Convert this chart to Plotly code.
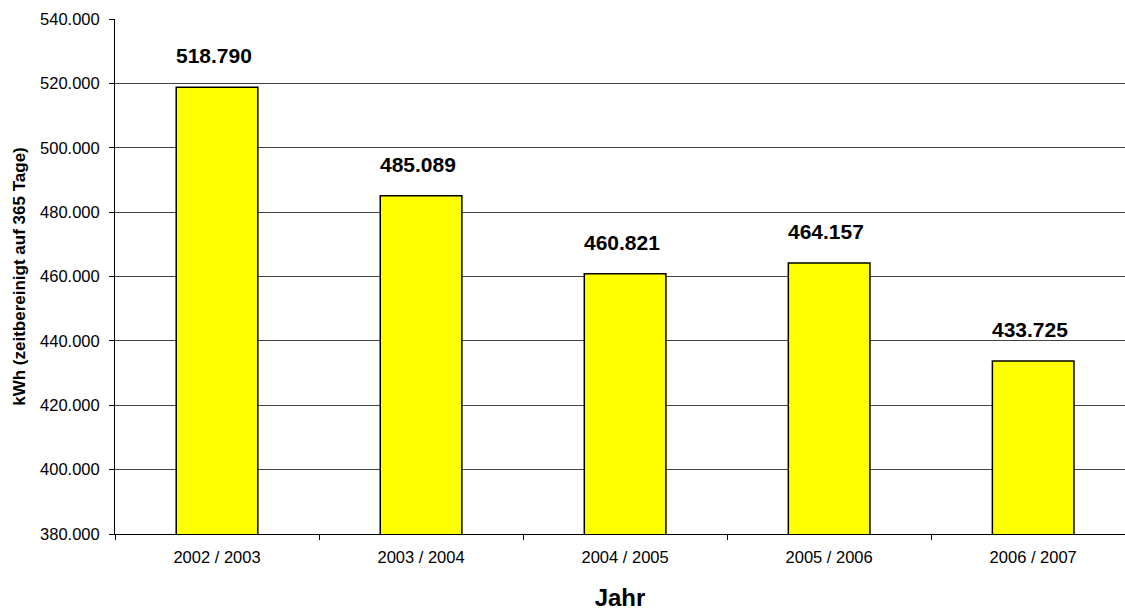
import plotly.graph_objects as go

# Energy consumption per heating year
jahre = ["2002 / 2003", "2003 / 2004", "2004 / 2005", "2005 / 2006", "2006 / 2007"]
verbrauch = [518790, 485089, 460821, 464157, 433725]

fig = go.Figure()
fig.add_trace(go.Bar(
    x=jahre,
    y=verbrauch,
    width=0.4,
    marker=dict(color="#FFFF00", line=dict(color="#000000", width=1.5)),
    hoverinfo="skip",
))

for j, v in zip(jahre, verbrauch):
    fig.add_annotation(
        x=j, y=v, text=f"<b>{v:,}</b>".replace(",", "."),
        showarrow=False, yanchor="bottom", yshift=18, xshift=-3,
        font=dict(family="Liberation Sans, Arial", size=21, color="#000"),
    )

fig.update_layout(
    width=1125, height=612,
    margin=dict(l=115, r=0, t=19, b=78),
    paper_bgcolor="white", plot_bgcolor="white",
    separators=",.",
    showlegend=False,
    font=dict(family="Liberation Sans, Arial", color="#000"),
)
fig.update_xaxes(
    type="category",
    range=[-0.5, 4.45],
    tickson="boundaries",
    ticks="outside", ticklen=5, tickcolor="#000",
    ticklabelstandoff=8,
    showline=True, linecolor="#000", linewidth=1,
    tickfont=dict(size=16.5),
    title=dict(text="<b>Jahr</b>", font=dict(size=24), standoff=24),
)
fig.update_yaxes(
    range=[380000, 540000],
    dtick=20000,
    tickformat=",d",
    ticks="outside", ticklen=5, tickcolor="#000",
    ticklabelstandoff=6,
    showline=True, linecolor="#000", linewidth=1,
    showgrid=True, gridcolor="#444", gridwidth=1,
    tickfont=dict(size=16.5),
    title=dict(text="<b>kWh (zeitbereinigt auf 365 Tage)</b>", font=dict(size=17), standoff=10),
    zeroline=False,
)

fig.write_html("out.html")
